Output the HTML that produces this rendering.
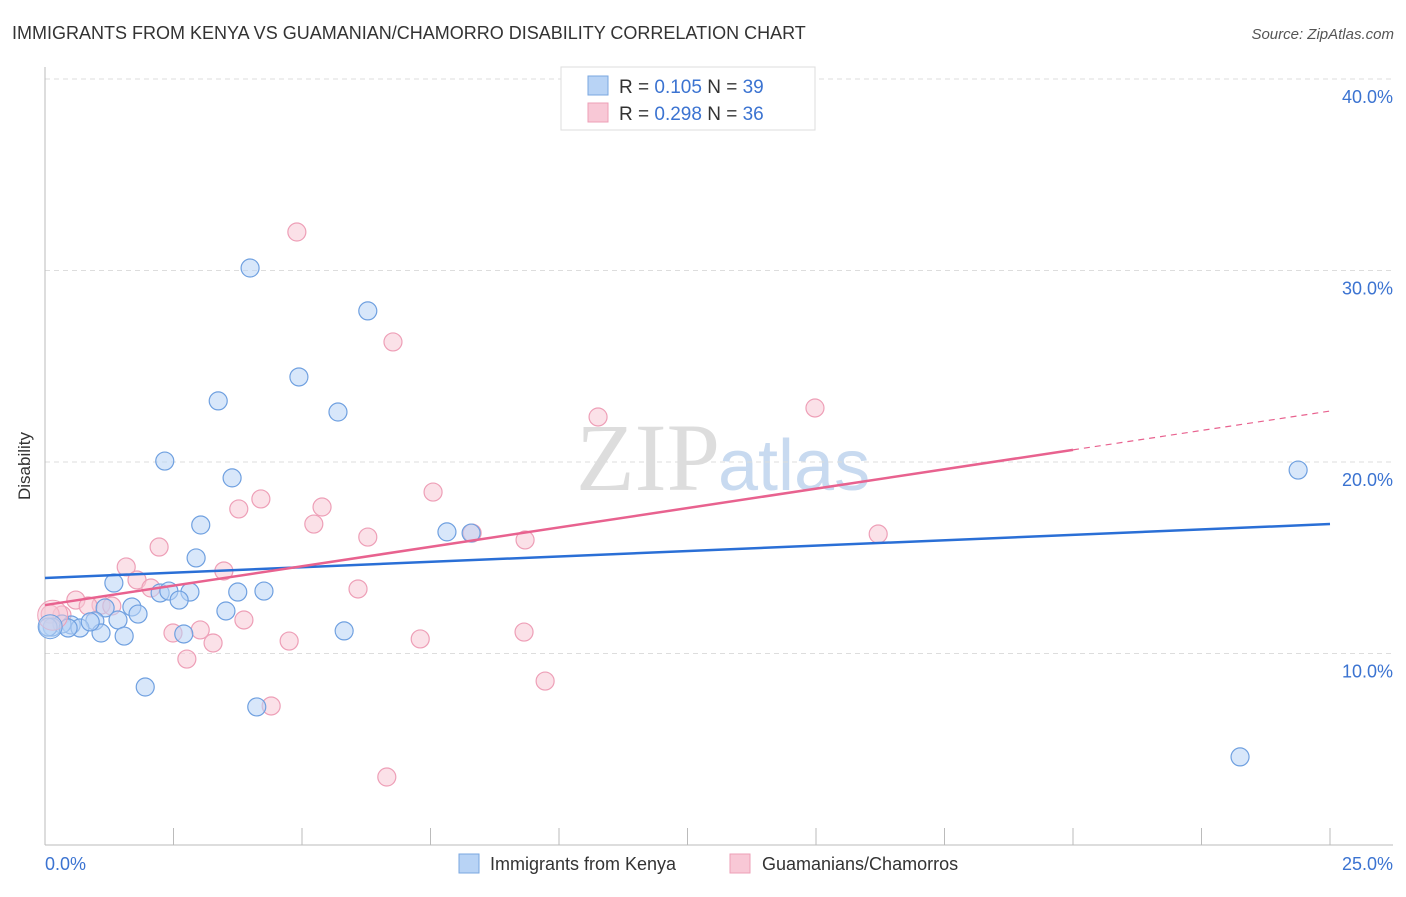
<!DOCTYPE html>
<html><head><meta charset="utf-8"><style>
body{margin:0;background:#fff;font-family:"Liberation Sans",sans-serif}
</style></head><body>
<svg id="c" width="1406" height="892" xmlns="http://www.w3.org/2000/svg" font-family="Liberation Sans, sans-serif">
<text x="12" y="39" font-size="18" fill="#333">IMMIGRANTS FROM KENYA VS GUAMANIAN/CHAMORRO DISABILITY CORRELATION CHART</text>
<text x="1394" y="39" font-size="15" fill="#555" font-style="italic" text-anchor="end">Source: ZipAtlas.com</text>
<text x="720" y="490" font-size="96" fill="#ddd" text-anchor="end" font-family="Liberation Serif, serif">ZIP</text>
<text x="718" y="490" font-size="72" fill="#c8daf0">atlas</text>
<g id="grid"></g>
<line x1="45" y1="67" x2="45" y2="845" stroke="#bbb"/>
<line x1="45" y1="845" x2="1393" y2="845" stroke="#bbb"/>
<text x="20" y="456" font-size="17" fill="#333" transform="rotate(-90 30 456)" text-anchor="middle">Disability</text>
<text x="45" y="870" font-size="18" fill="#3b73d1">0.0%</text>
<text x="1393" y="870" font-size="18" fill="#3b73d1" text-anchor="end">25.0%</text>
<g id="pts"></g>
<g id="lines"></g>
<g>
<rect x="561" y="67" width="254" height="63" fill="#fff" stroke="#ddd"/>
<rect x="588" y="76" width="20" height="19" fill="#b8d3f5" stroke="#7aa7e0"/>
<rect x="588" y="103" width="20" height="19" fill="#f8c8d6" stroke="#ee9fb7"/>
<text x="619" y="93" font-size="19" fill="#333">R = <tspan fill="#3b73d1">0.105</tspan>   N = <tspan fill="#3b73d1">39</tspan></text>
<text x="619" y="120" font-size="19" fill="#333">R = <tspan fill="#3b73d1">0.298</tspan>   N = <tspan fill="#3b73d1">36</tspan></text>
</g>
<g>
<rect x="459" y="854" width="20" height="19" fill="#b8d3f5" stroke="#7aa7e0"/>
<text x="490" y="870" font-size="18" fill="#333">Immigrants from Kenya</text>
<rect x="730" y="854" width="20" height="19" fill="#f8c8d6" stroke="#ee9fb7"/>
<text x="762" y="870" font-size="18" fill="#333">Guamanians/Chamorros</text>
</g>
</svg>
<script>
const yTicks=[10,20,30,40];
const xTicks=[0,2.5,5,7.5,10,12.5,15,17.5,20,22.5,25];
const blueX=[3.99,6.28,4.94,3.37,5.70,2.33,3.64,24.38,3.03,7.82,8.29,2.94,1.34,2.24,2.41,2.82,3.75,4.26,2.61,1.69,1.81,3.52,1.17,1.42,0.97,0.51,0.33,0.14,0.68,0.45,1.09,1.54,2.70,5.82,1.95,4.12,23.25,0.06,0.88];
const blueY=[30.13,27.89,24.44,23.19,22.61,20.05,19.17,19.58,16.71,16.35,16.29,14.99,13.68,13.16,13.26,13.21,13.21,13.26,12.79,12.43,12.06,12.22,12.38,11.75,11.70,11.49,11.54,11.38,11.33,11.33,11.07,10.91,11.02,11.18,8.25,7.21,4.60,11.38,11.65];
const pinkX=[4.90,6.77,10.76,14.98,7.55,4.20,5.39,3.77,5.23,6.28,16.21,8.31,9.34,2.22,1.58,3.48,1.79,2.06,6.09,0.60,1.09,1.30,0.84,0.33,0.10,3.87,2.49,3.02,9.32,4.75,7.30,3.27,2.76,9.73,4.40,6.65];
const pinkY=[32.01,26.27,22.35,22.82,18.43,18.07,17.65,17.55,16.76,16.08,16.24,16.29,15.93,15.56,14.52,14.31,13.84,13.42,13.37,12.79,12.53,12.48,12.48,12.01,12.06,11.75,11.07,11.23,11.12,10.65,10.76,10.55,9.71,8.56,7.26,3.55];
const blueTrend=[13.94,16.76];
const pinkTrend=[12.53,22.66];
const pinkSolidEnd=20;
const NS="http://www.w3.org/2000/svg";
const sx=v=>45+v/25*1285, sy=v=>845-v*19.15;
function mk(t,a,p){const e=document.createElementNS(NS,t);for(const k in a)e.setAttribute(k,a[k]);p.appendChild(e);return e;}
const g=document.getElementById('grid');
yTicks.forEach(t=>{
 const l=mk('line',{x1:45,x2:1393,y1:sy(t),y2:sy(t),stroke:'#ddd','stroke-dasharray':'5,4'},g);
 
 
 const tx=mk('text',{x:1393,y:sy(t)+24,'font-size':18,fill:'#3b73d1','text-anchor':'end'},g);
 tx.textContent=t.toFixed(1)+'%';
 
 
});
xTicks.forEach(t=>{
 const l=mk('line',{x1:sx(t),x2:sx(t),y1:828,y2:845,stroke:'#bbb'},g);
 
 
});
const p=document.getElementById('pts');
function dots(X,Y,fill,stroke,name){
 X.forEach((x,i)=>{
  const c=mk('circle',{cx:sx(x),cy:sy(Y[i]),r:9,fill:fill,'fill-opacity':0.55,stroke:stroke,'stroke-width':1.2},p);
  
  
 });
}
dots(pinkX,pinkY,'#f8c8d6','#ee9fb7','pink-point');
dots(blueX,blueY,'#b8d3f5','#6fa0e0','blue-point');
const big1=mk('circle',{cx:sx(0.15),cy:sy(12),r:15,fill:'#f8c8d6','fill-opacity':0.5,stroke:'#ee9fb7'},p);


const big2=mk('circle',{cx:sx(0.1),cy:sy(11.4),r:12,fill:'#b8d3f5','fill-opacity':0.5,stroke:'#6fa0e0'},p);


const L=document.getElementById('lines');
const bt=mk('line',{x1:sx(0),y1:sy(blueTrend[0]),x2:sx(25),y2:sy(blueTrend[1]),stroke:'#2a6fd6','stroke-width':2.5},L);


const pm=y=>pinkTrend[0]+(pinkTrend[1]-pinkTrend[0])*y/25;
const pt=mk('line',{x1:sx(0),y1:sy(pinkTrend[0]),x2:sx(pinkSolidEnd),y2:sy(pm(pinkSolidEnd)),stroke:'#e8628f','stroke-width':2.5},L);


const pd=mk('line',{x1:sx(pinkSolidEnd),y1:sy(pm(pinkSolidEnd)),x2:sx(25),y2:sy(pinkTrend[1]),stroke:'#e8628f','stroke-width':1.2,'stroke-dasharray':'6,5'},L);


</script>
</body></html>
